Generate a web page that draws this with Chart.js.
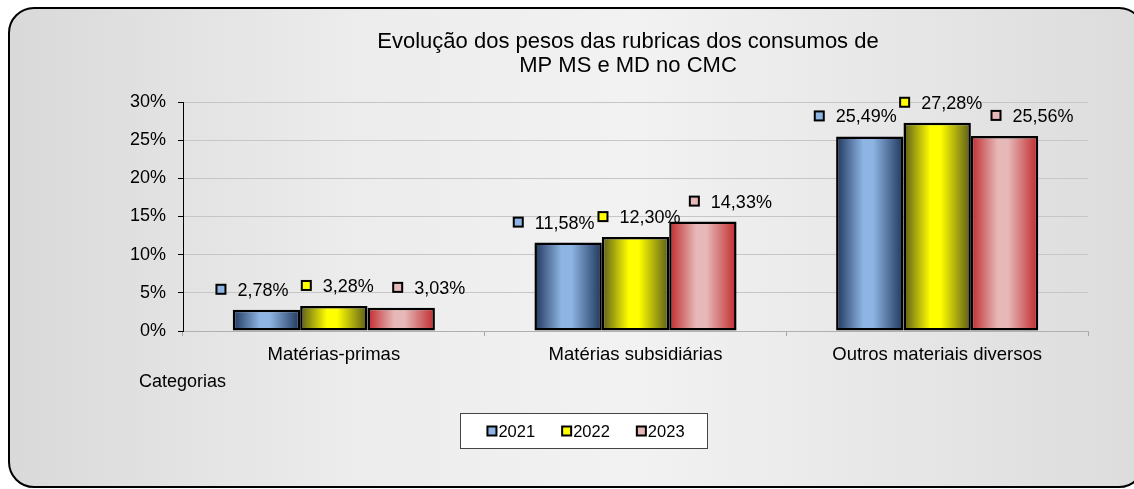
<!DOCTYPE html>
<html>
<head>
<meta charset="utf-8">
<script src="https://cdn.jsdelivr.net/npm/chart.js@4.4.0/dist/chart.umd.min.js"></script>
<style>
  html, body { margin: 0; padding: 0; width: 1134px; height: 489px; overflow: hidden; background: #fff; }
  #card {
    position: absolute; left: 8px; top: 7px; width: 1133px; height: 477px;
    border: 2px solid #000; border-radius: 26px;
    background: linear-gradient(90deg, #d9d9d9 0%, #ececec 30%, #f2f2f2 55%, #dcdcdc 100%);
  }
  #chart { position: absolute; left: 0; top: 0; }
</style>
</head>
<body>
<div id="card"></div>
<canvas id="chart" width="1134" height="489"></canvas>
<script>
// data
const categories = ["Matérias-primas", "Matérias subsidiárias", "Outros materiais diversos"];
const years = ["2021", "2022", "2023"];
const values2021 = [2.78, 11.58, 25.49];
const values2022 = [3.28, 12.30, 27.28];
const values2023 = [3.03, 14.33, 25.56];
const yMin = 0, yMax = 30, yStep = 5;
const titleLines = ["Evolução dos pesos das rubricas dos consumos de", "MP MS e MD no CMC"];
const xTitle = "Categorias";

const FONT = "'Liberation Sans', Arial, sans-serif";

// colours for each year: edge (dark), centre (light)
const seriesColors = [
  { dark: "#1f365c", light: "#8db4e2" },
  { dark: "#5a5a1c", light: "#ffff00" },
  { dark: "#c0292c", light: "#e6b9b8" }
];
// horizontal shift of the value labels per series
const labelShift = [-14, 4, 28];

function pct(v) {
  return v.toFixed(2).replace(".", ",") + "%";
}

function drawMarker(ctx, x, y, size, fill) {
  ctx.fillStyle = fill;
  ctx.fillRect(x, y, size, size);
  ctx.lineWidth = 2;
  ctx.strokeStyle = "#000";
  ctx.strokeRect(x, y, size, size);
}

// cylinder-like shading of every bar
const barShading = {
  id: "barShading",
  beforeDatasetsDraw(chart) {
    const ctx = chart.ctx;
    chart.data.datasets.forEach((ds, di) => {
      const c = seriesColors[di];
      chart.getDatasetMeta(di).data.forEach(el => {
        const g = ctx.createLinearGradient(el.x - el.width / 2, 0, el.x + el.width / 2, 0);
        g.addColorStop(0, c.dark);
        g.addColorStop(0.4, c.light);
        g.addColorStop(0.55, c.light);
        g.addColorStop(1, c.dark);
        el.options = Object.assign({}, el.options, { backgroundColor: g });
      });
    });
  }
};

// value labels with a small key square
const valueLabels = {
  id: "valueLabels",
  afterDatasetsDraw(chart) {
    const ctx = chart.ctx;
    ctx.save();
    ctx.font = "18px " + FONT;
    ctx.textBaseline = "middle";
    ctx.textAlign = "left";
    chart.data.datasets.forEach((ds, di) => {
      chart.getDatasetMeta(di).data.forEach((el, i) => {
        const txt = pct(ds.data[i]);
        const tw = ctx.measureText(txt).width;
        const total = 10 + 11 + tw;
        const cx = el.x + labelShift[di];
        const cy = el.y - 20;
        const left = cx - total / 2;
        drawMarker(ctx, left, cy - 5, 9, seriesColors[di].light);
        ctx.fillStyle = "#000";
        ctx.fillText(txt, left + 21, cy + 1);
      });
    });
    ctx.restore();
  }
};

// title, axis title and boxed legend
const extras = {
  id: "extras",
  afterDraw(chart) {
    const ctx = chart.ctx;
    const area = chart.chartArea;
    ctx.save();
    ctx.fillStyle = "#000";
    ctx.textBaseline = "middle";

    ctx.font = "22px " + FONT;
    ctx.textAlign = "center";
    titleLines.forEach((t, i) => ctx.fillText(t, chart.width / 2 + 61, 42 + i * 24));

    ctx.font = "18px " + FONT;
    ctx.textAlign = "left";
    ctx.fillText(xTitle, area.left - 44, 382);

    // legend
    ctx.font = "16.5px " + FONT;
    const boxW = 248, boxH = 36;
    const bx = chart.width / 2 + 17 - boxW / 2;
    const by = 413;
    ctx.fillStyle = "#fff";
    ctx.fillRect(bx, by, boxW, boxH);
    ctx.lineWidth = 1;
    ctx.strokeStyle = "#444";
    ctx.strokeRect(bx + 0.5, by + 0.5, boxW - 1, boxH - 1);
    const items = chart.data.datasets.map(d => d.label);
    const gap = 2, spacing = 27;
    const widths = items.map(t => 9 + gap + ctx.measureText(t).width);
    const all = widths.reduce((a, b) => a + b, 0) + spacing * (items.length - 1);
    let x = bx + boxW / 2 - all / 2 + 2;
    const cy = by + boxH / 2;
    items.forEach((t, i) => {
      drawMarker(ctx, x, cy - 4.5, 9, seriesColors[i].light);
      ctx.fillStyle = "#000";
      ctx.fillText(t, x + 9 + gap, cy + 1);
      x += widths[i] + spacing;
    });
    ctx.restore();
  }
};

const datasets = [values2021, values2022, values2023].map((vals, i) => ({
  label: years[i],
  data: vals,
  backgroundColor: seriesColors[i].light,
  borderColor: "#000",
  borderWidth: 2.5,
  borderSkipped: false,
  barPercentage: 1,
  categoryPercentage: 0.67
}));

new Chart(document.getElementById("chart"), {
  type: "bar",
  data: { labels: categories, datasets },
  options: {
    responsive: false,
    animation: false,
    devicePixelRatio: 1,
    layout: { padding: { left: 100, right: 46, top: 102, bottom: 118 } },
    plugins: {
      legend: { display: false },
      tooltip: { enabled: false },
      title: { display: false }
    },
    scales: {
      x: {
        offset: true,
        grid: { offset: true, drawOnChartArea: false, drawTicks: true, tickLength: 5, color: "#a6a6a6" },
        border: { color: "#b0b0b0", width: 1 },
        ticks: { color: "#000", padding: 8, font: { family: FONT, size: 18.5 } },
        afterFit(s) { s.height = 40; }
      },
      y: {
        min: yMin,
        max: yMax,
        ticks: {
          stepSize: yStep,
          color: "#000",
          padding: 12,
          font: { family: FONT, size: 18 },
          callback: v => v + "%"
        },
        grid: { color: "#c6c6c6", tickColor: "#000", tickLength: 5, lineWidth: 1 },
        border: { color: "#000", width: 1 },
        afterFit(s) { s.width = 83; }
      }
    }
  },
  plugins: [barShading, valueLabels, extras]
});
</script>
</body>
</html>
